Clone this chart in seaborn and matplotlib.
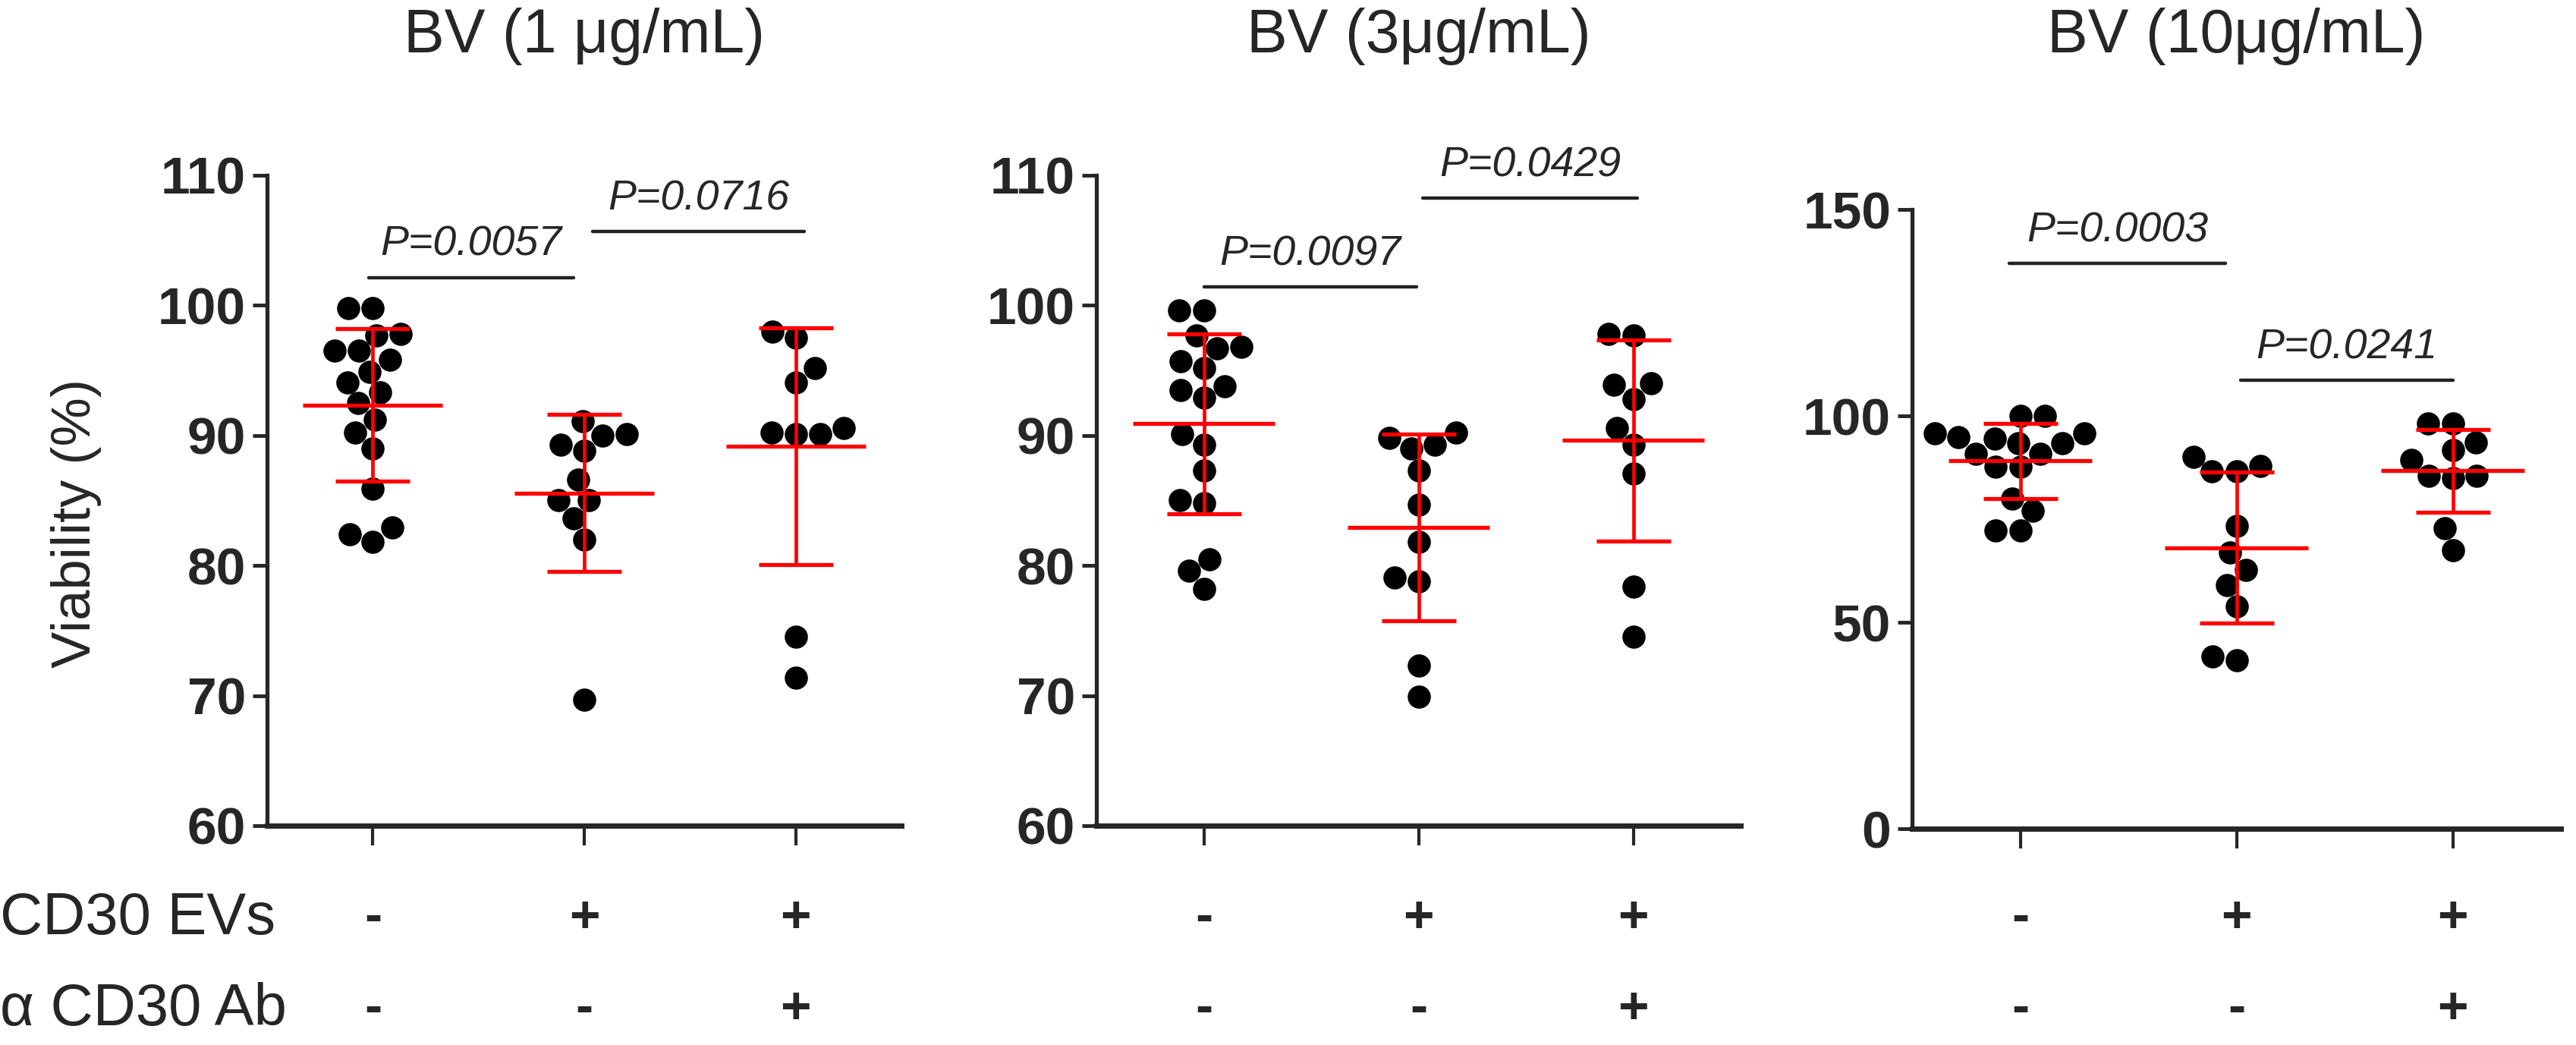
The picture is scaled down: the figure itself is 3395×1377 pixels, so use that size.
import numpy as np
import pandas as pd
import seaborn as sns
import matplotlib.pyplot as plt
from matplotlib import font_manager
from matplotlib.transforms import blended_transform_factory

# ---- data ----
titles = ['BV (1 μg/mL)', 'BV (3μg/mL)', 'BV (10μg/mL)']
groups = ['ctrl', 'EVs', 'EVs+Ab']
ev_signs = ['-', '+', '+']
ab_signs = ['-', '-', '+']

bv1_ctrl = [99.8, 99.8, 97.8, 97.7, 96.5, 96.5, 95.8, 94.9, 94.1, 93.3, 92.5, 91.2, 90.2, 89.0, 85.9, 82.9, 81.8, 82.4]
bv1_ev = [90.1, 89.3, 90.0, 91.1, 88.8, 86.6, 85.0, 85.0, 83.6, 82.0, 69.7]
bv1_ev_ab = [98.0, 97.5, 95.2, 94.1, 90.6, 90.1, 90.1, 90.2, 74.5, 71.4]

bv3_ctrl = [99.6, 99.6, 97.7, 96.7, 96.8, 95.7, 95.2, 93.5, 93.8, 92.9, 90.1, 89.3, 87.3, 85.0, 84.8, 80.5, 79.6, 78.2]
bv3_ev = [89.8, 90.2, 89.0, 89.3, 87.3, 84.7, 81.8, 79.1, 78.8, 72.3, 69.9]
bv3_ev_ab = [97.8, 97.7, 93.9, 92.8, 94.0, 90.6, 89.3, 87.1, 78.4, 74.5]

bv10_ctrl = [100.0, 100.0, 95.7, 95.8, 94.5, 94.8, 93.3, 93.3, 90.8, 90.8, 87.7, 87.7, 80.0, 77.0, 72.2, 72.2]
bv10_ev = [90.1, 86.5, 86.5, 87.8, 73.4, 66.9, 62.6, 59.0, 53.8, 40.8, 41.7]
bv10_ev_ab = [98.2, 98.2, 93.5, 91.7, 89.4, 85.5, 84.9, 85.5, 72.8, 67.5]

p_bv1 = ['P=0.0057', 'P=0.0716']
p_bv3 = ['P=0.0097', 'P=0.0429']
p_bv10 = ['P=0.0003', 'P=0.0241']

panels = [
    (bv1_ctrl, bv1_ev, bv1_ev_ab, p_bv1),
    (bv3_ctrl, bv3_ev, bv3_ev_ab, p_bv3),
    (bv10_ctrl, bv10_ev, bv10_ev_ab, p_bv10),
]

# ---- layout (pixel based, 3395 x 1377) ----
W, H = 3395, 1377
axes_px = [(352, 1188, 231, 1088), (1445, 2294, 231, 1088), (2520, 3375, 276, 1092)]
ylims = [(60, 110), (60, 110), (0, 150)]
yticks = [np.arange(60, 111, 10), np.arange(60, 111, 10), np.arange(0, 151, 50)]
# comparison bars: (x start, x end, y)
bars = [
    [(-0.02, 0.95, 102.15), (1.04, 2.04, 105.7)],
    [(0.0, 0.99, 101.4), (1.02, 2.02, 108.25)],
    [(-0.05, 0.95, 137.0), (1.02, 2.0, 108.7)],
]

sns.set_style('ticks')
plt.rcParams['font.family'] = ['Liberation Sans', 'DejaVu Sans']

names = {f.name for f in font_manager.fontManager.ttflist}
if 'Liberation Sans Narrow' in names:
    p_font, p_size = 'Liberation Sans Narrow', 46
else:
    p_font, p_size = 'Liberation Sans', 40

fig = plt.figure(figsize=(W / 100, H / 100), dpi=100)

for k, (ctrl, ev, ev_ab, plabels) in enumerate(panels):
    l, r, t, b = axes_px[k]
    ax = fig.add_axes([l / W, 1 - b / H, (r - l) / W, (b - t) / H])

    df = pd.DataFrame({
        'group': [groups[0]] * len(ctrl) + [groups[1]] * len(ev) + [groups[2]] * len(ev_ab),
        'value': ctrl + ev + ev_ab,
    })
    sns.swarmplot(data=df, x='group', y='value', order=groups, color='black',
                  size=22, linewidth=0, ax=ax, zorder=2)

    # mean +/- SD in red
    for i, g in enumerate(groups):
        vals = df.loc[df.group == g, 'value'].values
        m, sd = vals.mean(), vals.std(ddof=1)
        ax.hlines(m, i - 0.33, i + 0.33, color='red', lw=3.8, zorder=4)
        ax.errorbar(i, m, yerr=sd, fmt='none', ecolor='red', elinewidth=3.4,
                    capsize=35, capthick=3.8, zorder=4)

    # significance bars
    for (x0, x1, y), lab in zip(bars[k], plabels):
        ax.plot([x0, x1], [y, y], color='#222222', lw=3.2, clip_on=False, zorder=3)
        ax.annotate(lab, xy=((x0 + x1) / 2, y), xytext=(0, 12), textcoords='offset points',
                    ha='center', va='bottom', fontsize=p_size, style='italic',
                    family=p_font, annotation_clip=False)

    ax.set_xlim(-0.5, 2.5)
    ax.set_ylim(*ylims[k])
    ax.set_yticks(yticks[k])
    ax.set_xticks([0, 1, 2])
    ax.set_xticklabels(['', '', ''])
    ax.set_xlabel('')
    ax.set_ylabel('')
    for lbl in ax.get_yticklabels():
        lbl.set_fontweight('bold')
    ax.tick_params(axis='y', labelsize=50, length=14, width=3.5, pad=6)
    ax.tick_params(axis='x', length=19, width=3, pad=2)
    sns.despine(ax=ax)
    ax.spines['left'].set_linewidth(3.8)
    ax.spines['bottom'].set_linewidth(5)

    # title
    tr = blended_transform_factory(ax.transAxes, fig.transFigure)
    ax.text(0.5, 1 - 48 / H, titles[k], transform=tr, ha='center', va='center', fontsize=58)

    # +/- rows
    trd = blended_transform_factory(ax.transData, fig.transFigure)
    for i in range(3):
        ax.text(i, 1 - 1210 / H, ev_signs[i], transform=trd, ha='center', va='center',
                fontsize=50, fontweight='bold')
        ax.text(i, 1 - 1330 / H, ab_signs[i], transform=trd, ha='center', va='center',
                fontsize=50, fontweight='bold')

fig.text(100 / W, 1 - 690 / H, 'Viability (%)', rotation=90, ha='center', va='center', fontsize=52)
fig.text(0.0, 1 - 1210 / H, 'CD30 EVs', ha='left', va='center', fontsize=56)
fig.text(0.0, 1 - 1330 / H, 'α CD30 Ab', ha='left', va='center', fontsize=56)

fig.savefig('out.png', dpi=100)
